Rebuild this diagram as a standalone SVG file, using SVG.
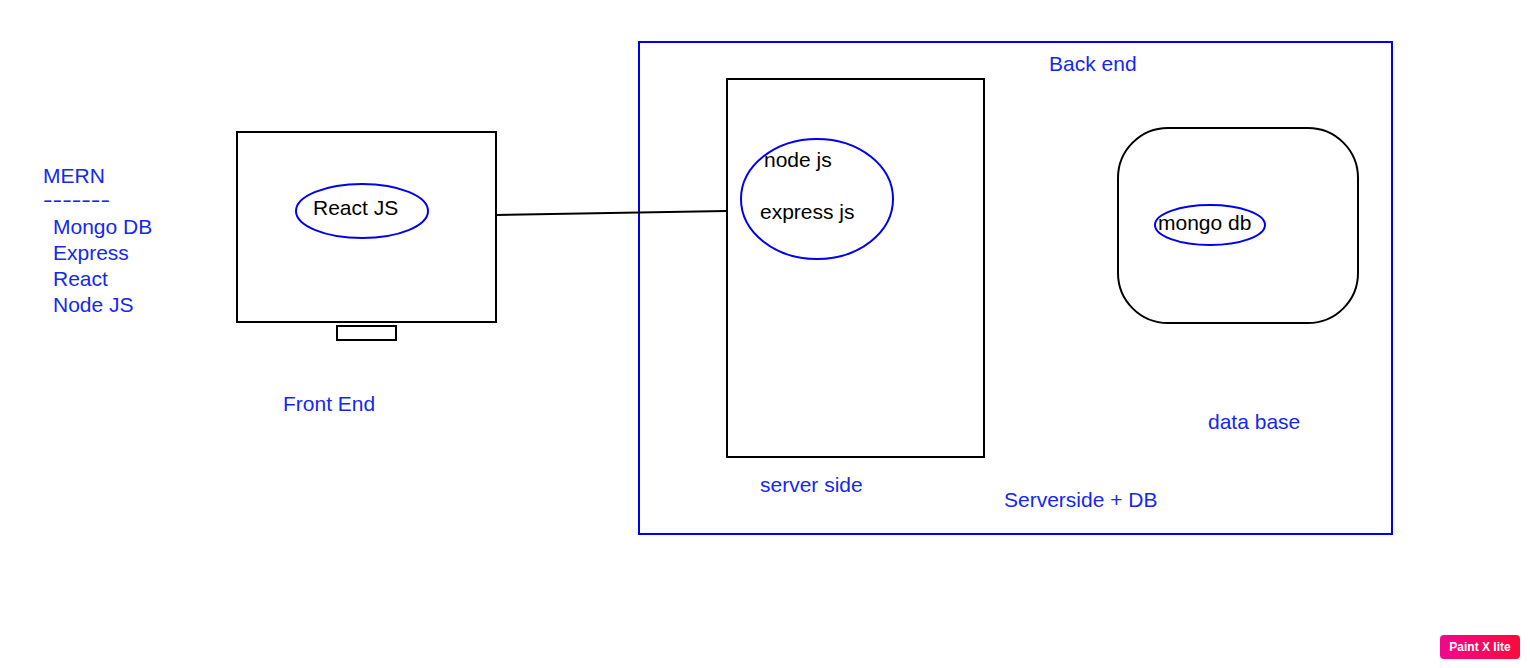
<svg xmlns="http://www.w3.org/2000/svg" width="1530" height="668" viewBox="0 0 1530 668">
<style>
text{font-family:"Liberation Sans",Arial,sans-serif;font-size:21px}
.b{fill:#1428f0}
.k{fill:#000}
.box{fill:none;stroke:#000;stroke-width:2}
.ell{fill:none;stroke:#0000ee;stroke-width:2}
</style>
<rect width="1530" height="668" fill="#fff"/>
<g id="mern-list">
<text class="b" x="43" y="183">MERN</text>
<text class="b" x="43" y="207" textLength="67" lengthAdjust="spacingAndGlyphs">-------</text>
<text class="b" x="53" y="234">Mongo DB</text>
<text class="b" x="53" y="260">Express</text>
<text class="b" x="53" y="286">React</text>
<text class="b" x="53" y="312">Node JS</text>
</g>
<g id="frontend">
<rect class="box" x="237" y="132" width="259" height="190"/>
<rect class="box" x="337" y="326" width="59" height="14" stroke-width="1.5"/>
<ellipse class="ell" cx="362" cy="211" rx="66" ry="27"/>
<text class="k" x="313" y="215">React JS</text>
<text class="b" x="283" y="411">Front End</text>
</g>
<g id="backend">
<rect x="639" y="42" width="753" height="492" fill="none" stroke="#0000ee" stroke-width="2"/>
<text class="b" x="1049" y="71">Back end</text>
<text class="b" x="1004" y="507">Serverside + DB</text>
</g>
<g id="server">
<rect class="box" x="727" y="79" width="257" height="378"/>
<ellipse class="ell" cx="817" cy="199" rx="76" ry="60"/>
<text class="k" x="764" y="167">node js</text>
<text class="k" x="760" y="219">express js</text>
<text class="b" x="760" y="492">server side</text>
</g>
<g id="database">
<rect class="box" x="1118" y="128" width="240" height="195" rx="50" ry="50"/>
<ellipse class="ell" cx="1210" cy="225" rx="55" ry="20"/>
<text class="k" x="1158" y="230">mongo db</text>
<text class="b" x="1208" y="429">data base</text>
</g>
<g id="connectors">
<line x1="496" y1="215" x2="726" y2="211" stroke="#000" stroke-width="2"/>
</g>
<g id="watermark">
<defs><linearGradient id="wm" x1="0" x2="1"><stop offset="0" stop-color="#f0088c"/><stop offset="1" stop-color="#fb0a3c"/></linearGradient></defs>
<rect x="1440" y="635" width="80" height="24" rx="4" fill="url(#wm)"/>
<text x="1480" y="651" text-anchor="middle" style="font-size:12px;font-weight:bold" fill="#fff">Paint X lite</text>
</g>
</svg>
